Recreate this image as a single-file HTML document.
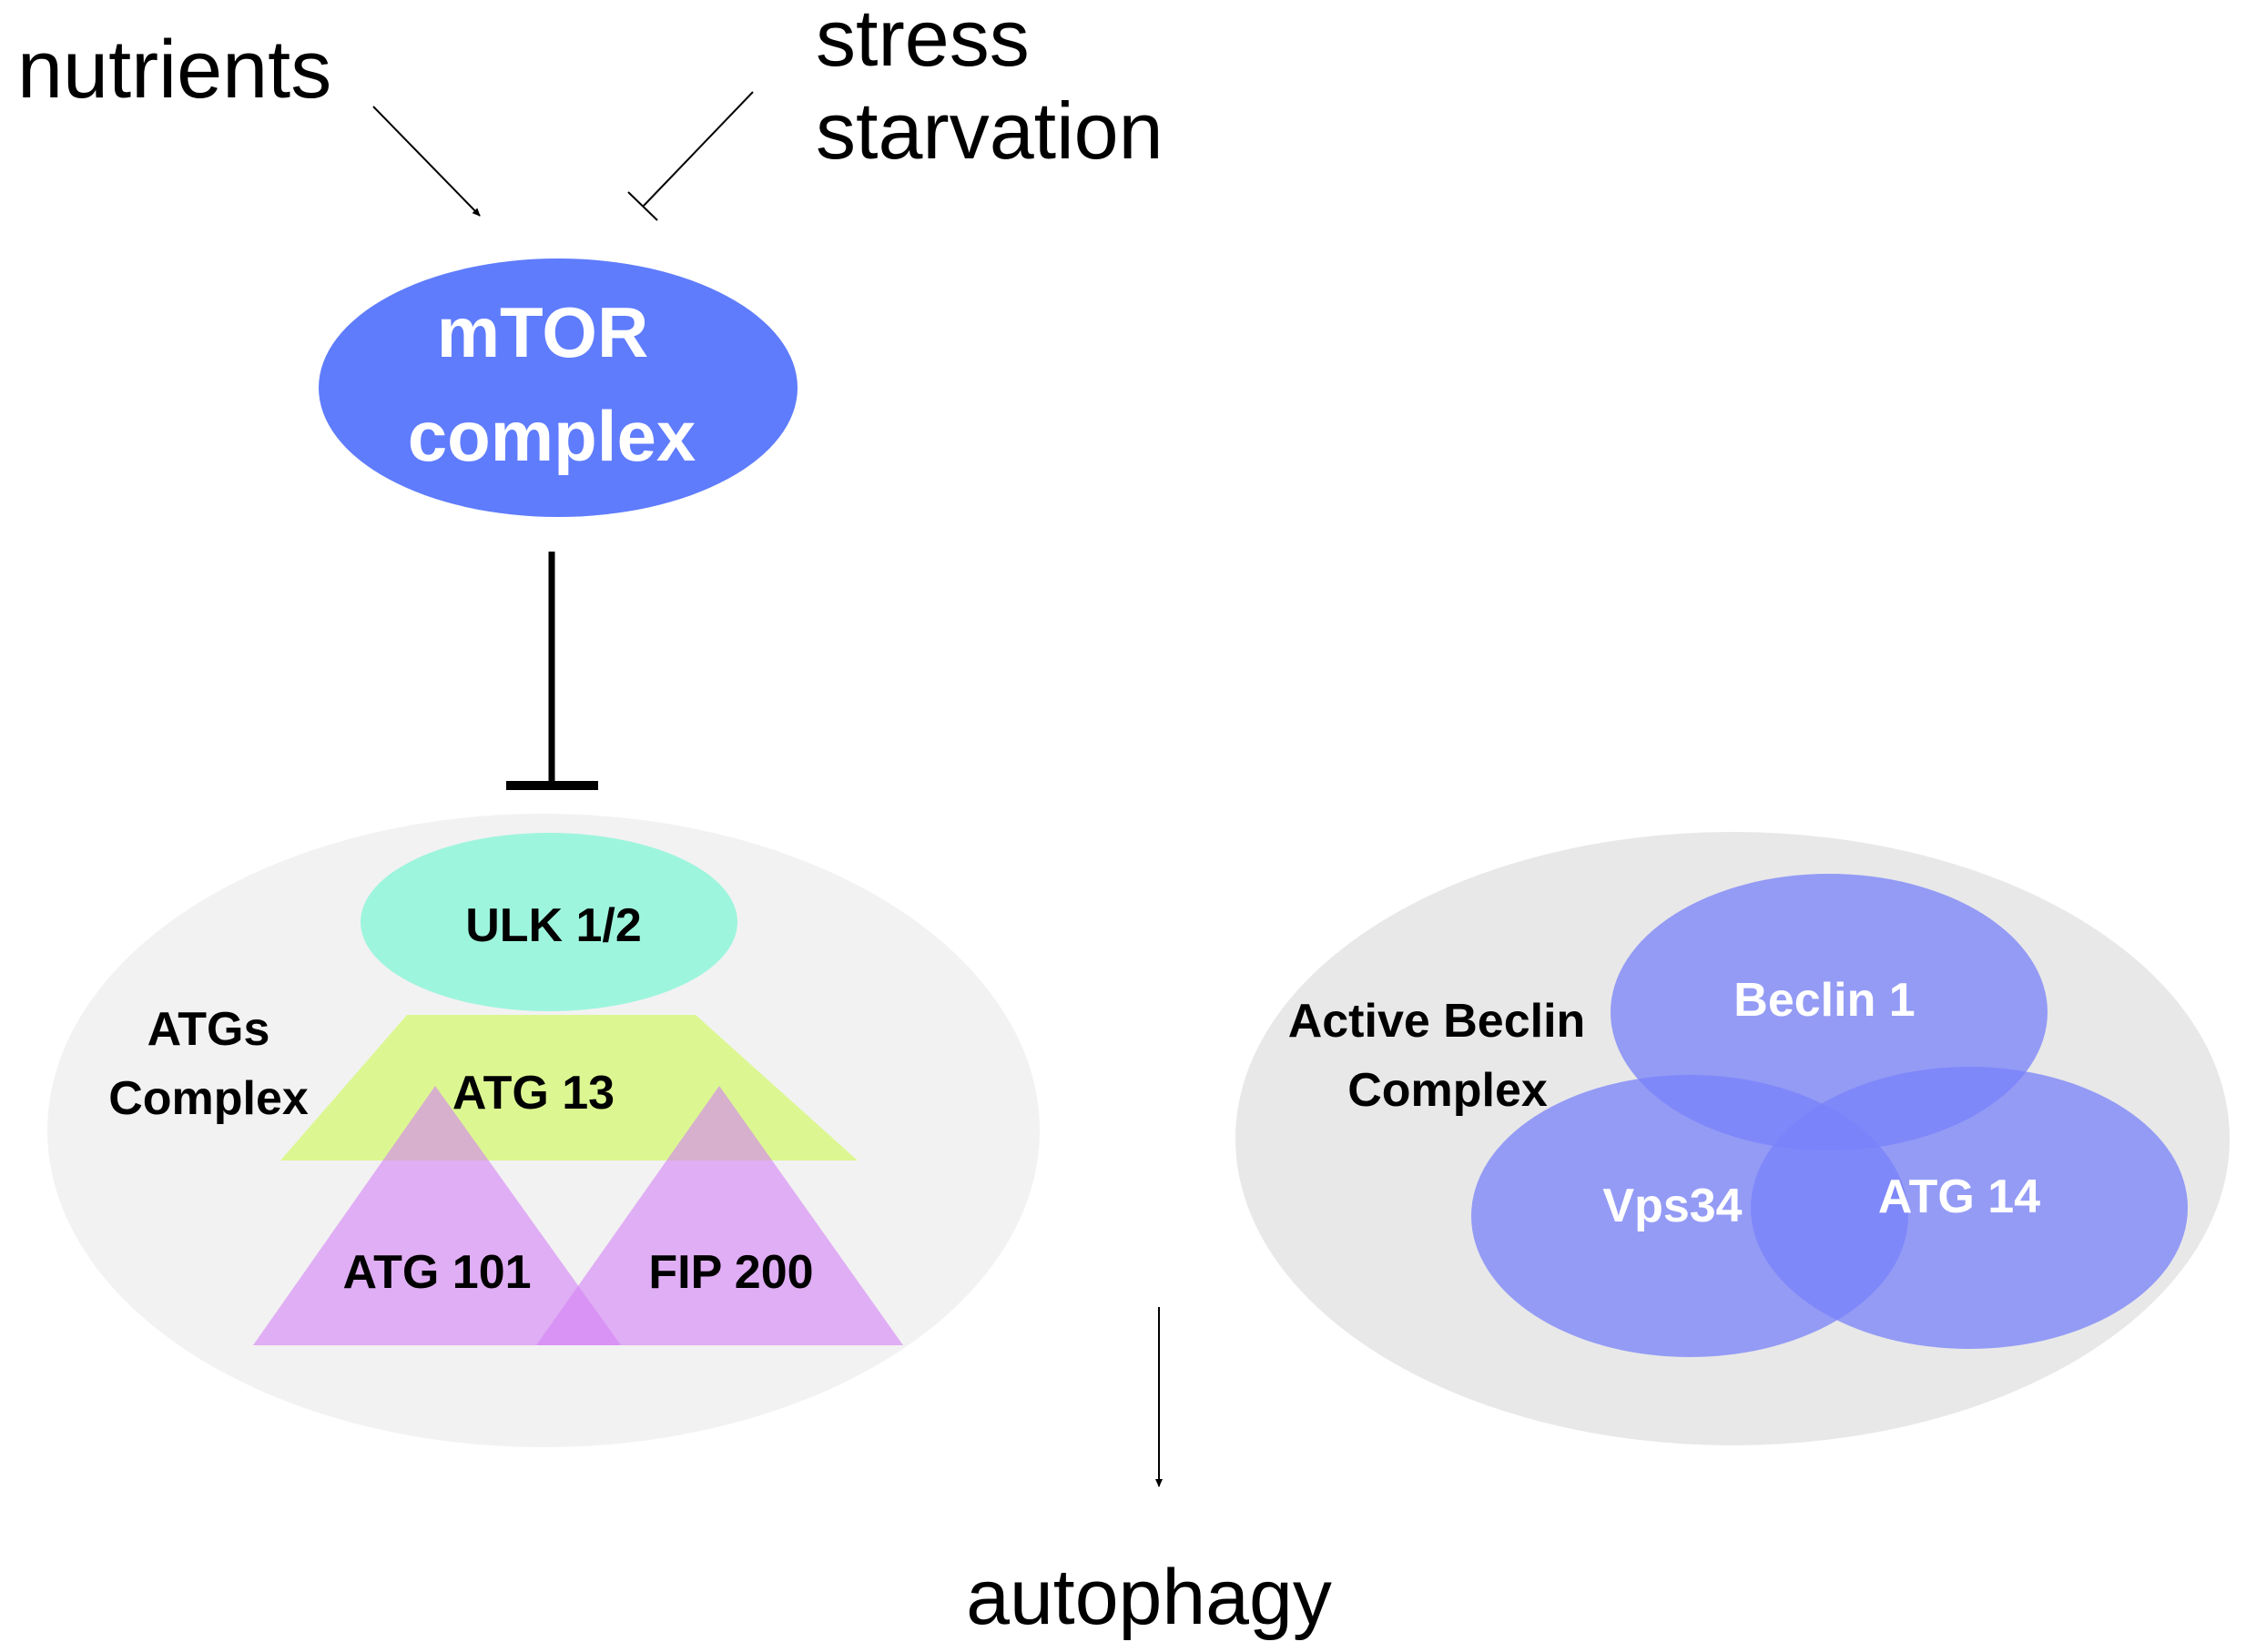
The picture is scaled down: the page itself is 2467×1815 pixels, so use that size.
<!DOCTYPE html>
<html><head><meta charset="utf-8"><style>
html,body{margin:0;padding:0;background:#fff;}
svg{display:block;}
text{font-family:"Liberation Sans",sans-serif;}
.b{font-weight:bold;}
</style></head><body>
<svg width="2467" height="1815" viewBox="0 0 2467 1815" xmlns="http://www.w3.org/2000/svg">
<defs>
<marker id="ah" markerWidth="10" markerHeight="10" refX="8" refY="5" orient="auto" markerUnits="userSpaceOnUse">
<path d="M0,1 L9,5 L0,9 Z" fill="#000"/>
</marker>
</defs>
<text x="19" y="107" font-size="90">nutrients</text>
<text x="896" y="72" font-size="88">stress</text>
<text x="896" y="174" font-size="88">starvation</text>
<line x1="410" y1="117" x2="527" y2="237" stroke="#000" stroke-width="2" marker-end="url(#ah)"/>
<line x1="827" y1="101" x2="707" y2="226" stroke="#000" stroke-width="2"/>
<line x1="690" y1="211" x2="722" y2="242" stroke="#000" stroke-width="2"/>
<ellipse cx="613" cy="426" rx="263" ry="142" fill="#5f7cfc"/>
<text x="596" y="392" font-size="78" class="b" fill="#fff" text-anchor="middle">mTOR</text>
<text x="606" y="506" font-size="78" class="b" fill="#fff" text-anchor="middle">complex</text>
<line x1="606" y1="606" x2="606" y2="862" stroke="#000" stroke-width="7"/>
<line x1="556" y1="863" x2="657" y2="863" stroke="#000" stroke-width="10"/>
<ellipse cx="597" cy="1242" rx="545" ry="348" fill="#f2f2f2"/>
<ellipse cx="603" cy="1013" rx="207" ry="98" fill="#9ef5dd"/>
<text x="608" y="1034" font-size="52" class="b" text-anchor="middle">ULK 1/2</text>
<polygon points="447,1115 764,1115 942,1275 308,1275" fill="#d4f870" fill-opacity="0.75"/>
<polygon points="478,1193 682,1478 278,1478" fill="#d480f5" fill-opacity="0.6"/>
<polygon points="790,1193 992,1478 589,1478" fill="#d480f5" fill-opacity="0.6"/>
<text x="586" y="1218" font-size="52" class="b" text-anchor="middle">ATG 13</text>
<text x="229" y="1148" font-size="52" class="b" text-anchor="middle">ATGs</text>
<text x="229" y="1224" font-size="52" class="b" text-anchor="middle">Complex</text>
<text x="480" y="1415" font-size="52" class="b" text-anchor="middle">ATG 101</text>
<text x="803" y="1415" font-size="52" class="b" text-anchor="middle">FIP 200</text>
<ellipse cx="1903" cy="1251" rx="546" ry="337" fill="#e8e8e8"/>
<g fill="rgb(120,130,250)" fill-opacity="0.75">
<ellipse cx="2009" cy="1112" rx="240" ry="152"/>
<ellipse cx="1856" cy="1336" rx="240" ry="155"/>
<ellipse cx="2163" cy="1327" rx="240" ry="155"/>
</g>
<text x="1578" y="1139" font-size="52" class="b" text-anchor="middle">Active Beclin</text>
<text x="1590" y="1215" font-size="52" class="b" text-anchor="middle">Complex</text>
<text x="2004" y="1116" font-size="52" class="b" fill="#fff" text-anchor="middle">Beclin 1</text>
<text x="1837" y="1342" font-size="52" class="b" fill="#fff" text-anchor="middle">Vps34</text>
<text x="2152" y="1332" font-size="52" class="b" fill="#fff" text-anchor="middle">ATG 14</text>
<line x1="1273" y1="1436" x2="1273" y2="1633" stroke="#000" stroke-width="2" marker-end="url(#ah)"/>
<text x="1262" y="1784" font-size="86" text-anchor="middle">autophagy</text>
</svg>
</body></html>
